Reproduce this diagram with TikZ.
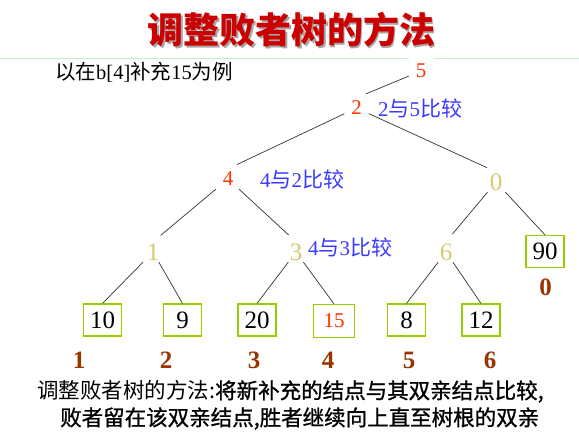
\documentclass[tikz,border=0pt]{standalone}
\usepackage{fontspec}
\setmainfont{Liberation Serif}
\newfontfamily\cjk{Noto Sans CJK SC}
\newfontfamily\cjkb[FakeBold=1]{Noto Sans CJK SC}
\newcommand\myfs[1]{\fontsize{#1}{#1}\selectfont}
\definecolor{titlered}{HTML}{CC0000}
\definecolor{nodered}{HTML}{FF3300}
\definecolor{khaki}{HTML}{D6CC6E}
\definecolor{cmpblue}{HTML}{3A3AFF}
\definecolor{boxgreen}{HTML}{99CC00}
\definecolor{idxbrown}{HTML}{993300}
\definecolor{rulegreen}{HTML}{C8F0C8}
\definecolor{edgegray}{HTML}{333333}
\tikzset{
  redtree/.style={text=nodered, font=\myfs{21}, inner sep=0pt, minimum width=24pt, minimum height=20pt},
  khtree/.style={text=khaki, font=\myfs{25}, inner sep=0pt, minimum width=24pt, minimum height=20pt},
  leafbox/.style={draw=boxgreen, line width=1.2pt, minimum width=38pt, minimum height=32pt, inner sep=0pt, font=\myfs{25}},
  idx/.style={text=idxbrown, font=\myfs{25}\bfseries, inner sep=0pt},
  cmp/.style={text=cmpblue, font=\myfs{21}, anchor=west, inner sep=0pt},
  edgeline/.style={draw=edgegray, line width=0.7pt},
  toleaf/.style={edgeline},
  totree/.style={edgeline, shorten >=10pt},
}
\begin{document}
\begin{tikzpicture}[x=1pt,y=-1pt]
\useasboundingbox (0,0) rectangle (579,442);
\fill[white] (0,0) rectangle (579,442);
% title
\node[text=black!35, font=\cjk\bfseries\myfs{36}, inner sep=0pt] (titleshadow) at (293,31.5) {调整败者树的方法};
\node[text=titlered, font=\cjk\bfseries\myfs{36}, inner sep=0pt] (title) at (291.5,30) {调整败者树的方法};
% rule
\draw[rulegreen, line width=1pt] (0,58.5) -- (409,58.5) (434,58.5) -- (579,58.5);
% caption
\node[anchor=west, inner sep=0pt, font=\myfs{20.5}] (example) at (55,72) {{\cjk 以在}b[4]{\cjk 补充}15{\cjk 为例}};
% tree nodes
\node[redtree] (n5) at (421,71) {5};
\node[redtree] (n2) at (356.5,108) {2};
\node[redtree] (n4) at (228,179) {4};
\node[khtree] (n0) at (496,182) {0};
\node[khtree] (n1) at (153,252) {1};
\node[khtree] (n3) at (296,252) {3};
\node[khtree] (n6) at (446,252) {6};
% comparison labels
\node[cmp] (c25) at (378,108) {2{\cjk 与}5{\cjk 比较}};
\node[cmp] (c42) at (260,179) {4{\cjk 与}2{\cjk 比较}};
\node[cmp] (c43) at (308,247) {4{\cjk 与}3{\cjk 比较}};
% leaves
\node[leafbox] (b10) at (102.5,320) {10};
\node[leafbox] (b9) at (182.5,320) {9};
\node[leafbox] (b20) at (257,320) {20};
\node[leafbox, minimum width=41.5pt, minimum height=33pt, text=nodered, font=\myfs{21}] (b15) at (334,321) {15};
\node[leafbox] (b8) at (406.5,320) {8};
\node[leafbox] (b12) at (481,320) {12};
\node[leafbox] (b90) at (545,251.5) {90};
% indices
\node[idx] (i1) at (79,360) {1};
\node[idx] (i2) at (166,360) {2};
\node[idx] (i3) at (254,360) {3};
\node[idx] (i4) at (328,360) {4};
\node[idx] (i5) at (409,360) {5};
\node[idx] (i6) at (490,360) {6};
\node[idx] (i0) at (545.5,287) {0};
% edges
\draw[totree] (n5) -- (n2.north);
\draw[totree] (n2) -- (n4.north);
\draw[totree] (n2) -- (n0.north);
\draw[totree] (n4) -- (n1.north);
\draw[totree] (n4) -- (n3.north);
\draw[totree] (n0) -- (n6.north);
\draw[toleaf] (n0) -- (b90.north);
\draw[toleaf] (n1) -- (b10.north);
\draw[toleaf] (n1) -- (b9.north);
\draw[toleaf] (n3) -- (b20.north);
\draw[toleaf] (n3) -- (b15.north);
\draw[toleaf] (n6) -- (b8.north);
\draw[toleaf] (n6) -- (b12.north);
% bottom text
\node[anchor=west, inner sep=0pt, font=\myfs{21.5}] (desc1) at (37,391.5) {{\cjk 调整败者树的方法:}{\cjkb 将新补充的结点与其双亲结点比较,}};
\node[anchor=west, inner sep=0pt, font=\myfs{21.5}] (desc2) at (60,418.5) {{\cjkb 败者留在该双亲结点,胜者继续向上直至树根的双亲}};
\end{tikzpicture}
\end{document}
